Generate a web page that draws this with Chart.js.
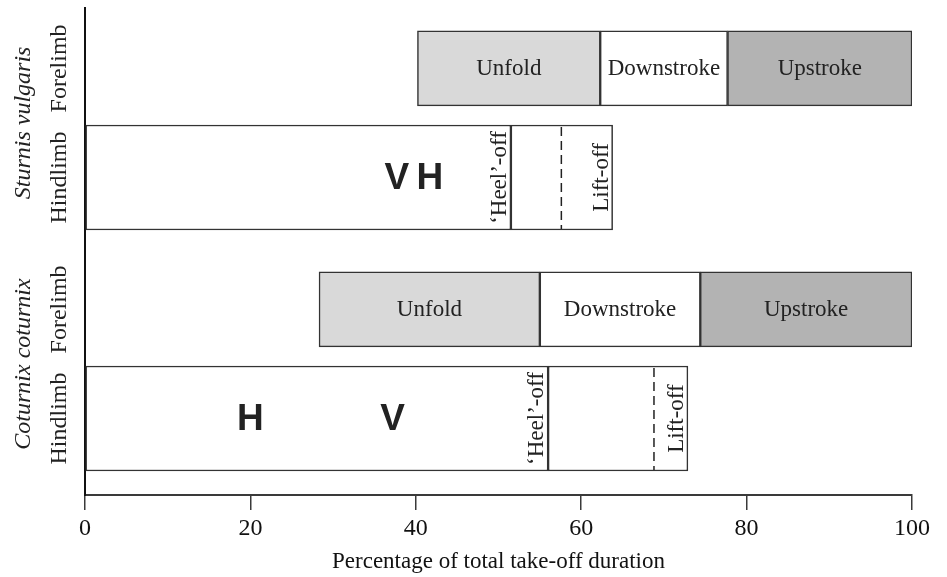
<!DOCTYPE html>
<html>
<head>
<meta charset="utf-8">
<script src="https://cdn.jsdelivr.net/npm/chart.js@4.4.1/dist/chart.umd.min.js"></script>
<style>
	html, body { margin: 0; padding: 0; background: #fff; }
	#Chart_Wrap { width: 947px; height: 577px; }
</style>
</head>
<body>
<div id="Chart_Wrap"><canvas id="Chart_Takeoff"></canvas></div>
<script>

// ---- data ---------------------------------------------------------------
const species = ['Sturnis vulgaris', 'Coturnix coturnix'];
const limbs = ['Forelimb', 'Hindlimb'];
const phases = ['Unfold', 'Downstroke', 'Upstroke'];

// forelimb phases, % of total take-off duration (one value per species)
const unfold_start = [40.2, 28.3];
const downstroke_start = [62.3, 55.0];
const upstroke_start = [77.7, 74.4];
const upstroke_end = [100, 100];

// hindlimb events
const heel_off = [51.5, 56.0];
const dashed_mark = [57.6, 68.8];
const lift_off = [63.8, 72.9];

// V / H markers on the hindlimb bars
const marker_text = [['V', 'H'], ['H', 'V']];
const marker_pos = [[37.7, 41.7], [20.0, 37.2]];

const x_ticks = [0, 20, 40, 60, 80, 100];

// ---- layout ---------------------------------------------------------------
// row centres on the hidden y scale (0 = top, 100 = bottom)
const FORE_Y = [12.4, 61.9];
const HIND_Y = [34.8, 84.3];
const FORE_THICK = 75;
const HIND_THICK = 105;

const SERIF = '"Liberation Serif", "Times New Roman", Times, serif';
const SANS = '"Liberation Sans", Arial, Helvetica, sans-serif';
const INK = '#222';
const EDGE = '#333';

Chart.defaults.font.family = SERIF;
Chart.defaults.color = INK;

function fore_data(starts, ends) {
	return species.map((s, i) => ({ x: [starts[i], ends[i]], y: FORE_Y[i] }));
}

function hind_data(starts, ends) {
	return species.map((s, i) => ({ x: [starts[i], ends[i]], y: HIND_Y[i] }));
}

function bar_set(label, data, colour, thick) {
	return {
		label: label,
		data: data,
		backgroundColor: colour,
		borderColor: EDGE,
		borderWidth: 1.5,
		borderSkipped: false,
		grouped: false,
		barThickness: thick
	};
}

function rotated_text(ctx, text, x, y, baseline) {
	ctx.save();
	ctx.translate(x, y);
	ctx.rotate(-Math.PI / 2);
	ctx.textAlign = 'center';
	ctx.textBaseline = baseline;
	ctx.fillText(text, 0, 0);
	ctx.restore();
}

// text drawn on top of the bars
const bar_labels = {
	id: 'bar_labels',
	afterDatasetsDraw(chart) {
		const ctx = chart.ctx;
		const xs = chart.scales.x;
		const ys = chart.scales.y;
		const bounds = [unfold_start, downstroke_start, upstroke_start, upstroke_end];

		ctx.save();
		ctx.fillStyle = INK;

		// forelimb phase names
		ctx.font = '23px ' + SERIF;
		ctx.textAlign = 'center';
		ctx.textBaseline = 'middle';
		species.forEach((s, i) => {
			const y = ys.getPixelForValue(FORE_Y[i]);
			phases.forEach((p, k) => {
				const x0 = xs.getPixelForValue(bounds[k][i]);
				const x1 = xs.getPixelForValue(bounds[k + 1][i]);
				ctx.fillText(p, (x0 + x1) / 2, y + 1);
			});
		});

		// hindlimb events
		species.forEach((s, i) => {
			const yc = ys.getPixelForValue(HIND_Y[i]);
			const top = yc - HIND_THICK / 2;
			const bottom = yc + HIND_THICK / 2;

			const xd = xs.getPixelForValue(dashed_mark[i]);
			ctx.strokeStyle = INK;
			ctx.lineWidth = 1.5;
			ctx.setLineDash([9, 5]);
			ctx.beginPath();
			ctx.moveTo(xd, top + 2);
			ctx.lineTo(xd, bottom - 1);
			ctx.stroke();
			ctx.setLineDash([]);

			ctx.font = '23px ' + SERIF;
			rotated_text(ctx, '\u2018Heel\u2019-off', xs.getPixelForValue(heel_off[i]) - 5, yc, 'alphabetic');
			rotated_text(ctx, 'Lift-off', xs.getPixelForValue(lift_off[i]) - 5, yc, 'alphabetic');

			ctx.font = 'bold 37px ' + SANS;
			ctx.textAlign = 'center';
			ctx.textBaseline = 'middle';
			marker_text[i].forEach((t, k) => {
				ctx.fillText(t, xs.getPixelForValue(marker_pos[i][k]), yc + 1);
			});
		});

		ctx.restore();
	},
	afterDraw(chart) {
		// row labels on the left, rotated
		const ctx = chart.ctx;
		const ys = chart.scales.y;
		ctx.save();
		ctx.fillStyle = INK;
		species.forEach((s, i) => {
			const yf = ys.getPixelForValue(FORE_Y[i]);
			const yh = ys.getPixelForValue(HIND_Y[i]);
			ctx.font = '24px ' + SERIF;
			rotated_text(ctx, limbs[0], 60, yf, 'middle');
			rotated_text(ctx, limbs[1], 60, yh, 'middle');
			ctx.font = 'italic 24px ' + SERIF;
			rotated_text(ctx, s, 24, (yf + yh) / 2, 'middle');
		});
		ctx.restore();
	}
};

const chart_data = {
	datasets: [
		bar_set(phases[0], fore_data(unfold_start, downstroke_start), '#d9d9d9', FORE_THICK),
		bar_set(phases[1], fore_data(downstroke_start, upstroke_start), '#ffffff', FORE_THICK),
		bar_set(phases[2], fore_data(upstroke_start, upstroke_end), '#b3b3b3', FORE_THICK),
		bar_set('Stance', hind_data(species.map(() => 0), heel_off), '#ffffff', HIND_THICK),
		bar_set('Heel-off', hind_data(heel_off, lift_off), '#ffffff', HIND_THICK)
	]
};

const options = {
	indexAxis: 'y',
	animation: false,
	responsive: true,
	maintainAspectRatio: false,
	layout: {
		padding: { top: 8, right: 35, left: 0, bottom: 0 }
	},
	plugins: {
		legend: { display: false },
		tooltip: { enabled: false }
	},
	scales: {
		x: {
			type: 'linear',
			position: 'bottom',
			min: 0,
			max: 100,
			afterBuildTicks: s => { s.ticks = x_ticks.map(v => ({ value: v })); },
			afterFit: s => { s.height = 82; },
			border: { color: '#3a3a3a', width: 2 },
			grid: { drawOnChartArea: false, drawTicks: true, tickLength: 15, color: '#3a3a3a', lineWidth: 1.5 },
			ticks: { color: '#111', font: { size: 24 }, padding: 4, maxRotation: 0 },
			title: {
				display: true,
				text: 'Percentage of total take-off duration',
				color: '#111',
				font: { size: 23 },
				padding: { top: 0, bottom: 1 }
			}
		},
		y: {
			type: 'linear',
			min: 0,
			max: 100,
			reverse: true,
			offset: false,
			afterFit: s => { s.width = 85; },
			border: { color: '#111', width: 2 },
			grid: { display: false, offset: false },
			ticks: { display: false }
		}
	}
};

const chart_ctx = document.getElementById('Chart_Takeoff').getContext('2d');
new Chart(chart_ctx, {
	type: 'bar',
	data: chart_data,
	options: options,
	plugins: [bar_labels]
});
</script>
</body>
</html>
